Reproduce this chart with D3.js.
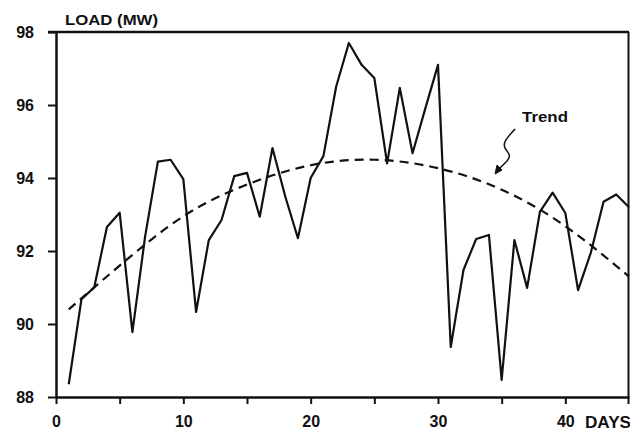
<!DOCTYPE html>
<html>
<head>
<meta charset="utf-8">
<script src="https://cdn.jsdelivr.net/npm/d3@7"></script>
<style>
  body { margin: 0; background: #fff; }
  text { font-family: "Liberation Sans", Arial, sans-serif; fill: #111; }
</style>
</head>
<body>
<div class="canva"></div>
<script>
const width = 630
const height = 435

// daily load readings (MW), days 1..45
const days = d3.range(1, 46)
const load = [88.35, 90.68, 91.0, 92.66, 93.05, 89.78, 92.4, 94.45, 94.5, 93.97,
  90.33, 92.3, 92.85, 94.05, 94.14, 92.94, 94.82, 93.5, 92.35, 94.0,
  94.6, 96.5, 97.7, 97.1, 96.74, 94.4, 96.47, 94.68, 95.9, 97.1,
  89.37, 91.48, 92.33, 92.44, 88.47, 92.3, 90.99, 93.07, 93.6, 93.04,
  90.93, 91.95, 93.35, 93.55, 93.2]

// trend curve read at a few days
const trendDays = [1, 5, 10, 15, 20, 25, 30, 35, 40, 45]
const trendLoad = [90.4, 91.6, 92.95, 93.82, 94.35, 94.5, 94.27, 93.68, 92.68, 91.3]

const yTicks = [88, 90, 92, 94, 96, 98]
const xTicks = [0, 5, 10, 15, 20, 25, 30, 35, 40]
const xLabels = [0, 10, 20, 30, 40]

const margin = {left: 56, right: 1, top: 32, bottom: 38}

const svg = d3.select(".canva").append("svg").attr("width", width).attr("height", height)

const x = d3.scaleLinear().domain([0, 45]).range([margin.left, width - margin.right])
const y = d3.scaleLinear().domain([88, 98]).range([height - margin.bottom, margin.top])

const ink = "#111"

//axes
const yAxis = svg.append("g")
  .attr("transform", `translate(${margin.left},0)`)
  .call(d3.axisLeft(y).tickValues(yTicks).tickSize(8).tickPadding(14).tickSizeOuter(0))
yAxis.select(".domain").attr("stroke", ink).attr("stroke-width", 2.5)
yAxis.selectAll(".tick line").attr("stroke", ink).attr("stroke-width", 2)
yAxis.selectAll(".tick text").attr("font-size", 16).attr("font-weight", "bold")
  .attr("fill", ink).style("font-family", "Liberation Sans, Arial, sans-serif")

const xAxis = svg.append("g")
  .attr("transform", `translate(0,${y(88)})`)
  .call(d3.axisBottom(x).tickValues(xTicks).tickSize(7).tickPadding(12).tickSizeOuter(0)
    .tickFormat(d => xLabels.includes(d) ? d : ""))
xAxis.select(".domain").attr("stroke", ink).attr("stroke-width", 2.5)
xAxis.selectAll(".tick line").attr("stroke", ink).attr("stroke-width", 2)
xAxis.selectAll(".tick text").attr("font-size", 16).attr("font-weight", "bold")
  .attr("fill", ink).style("font-family", "Liberation Sans, Arial, sans-serif")

//top and right frame
svg.append("line").attr("x1", margin.left - 8).attr("x2", x(45))
  .attr("y1", y(98)).attr("y2", y(98)).attr("stroke", ink).attr("stroke-width", 2.5)
svg.append("line").attr("x1", x(45) - 0.5).attr("x2", x(45) - 0.5)
  .attr("y1", y(98)).attr("y2", y(88) + 7).attr("stroke", ink).attr("stroke-width", 2)

svg.append("text").attr("x", 65).attr("y", 25).attr("font-size", 14).attr("font-weight", "bold")
  .attr("textLength", 93).attr("lengthAdjust", "spacingAndGlyphs").text("LOAD (MW)")
svg.append("text").attr("x", 585).attr("y", 428).attr("font-size", 16).attr("font-weight", "bold")
  .attr("textLength", 46).attr("lengthAdjust", "spacingAndGlyphs").text("DAYS")

//trend
const trendLine = d3.line().x((d, i) => x(trendDays[i])).y(d => y(d)).curve(d3.curveNatural)
svg.append("path").datum(trendLoad).attr("d", trendLine)
  .attr("fill", "none").attr("stroke", ink).attr("stroke-width", 2.2).attr("stroke-dasharray", "9,6")

//load
const loadLine = d3.line().x((d, i) => x(days[i])).y(d => y(d))
svg.append("path").datum(load).attr("d", loadLine)
  .attr("fill", "none").attr("stroke", ink).attr("stroke-width", 2.2).attr("stroke-linejoin", "round")

//trend label and squiggle arrow
svg.append("text").attr("x", 522).attr("y", 122).attr("font-size", 15).attr("font-weight", "bold")
  .attr("textLength", 46).attr("lengthAdjust", "spacingAndGlyphs").text("Trend")
svg.append("path").attr("d", "M515,129 C509,136 502,142 505,148 C508,153 512,155 507,161 L499,169")
  .attr("fill", "none").attr("stroke", ink).attr("stroke-width", 1.5)
svg.append("path").attr("d", "M495,174 L497,165 L502,170 Z").attr("fill", ink).attr("stroke", ink)
</script>
</body>
</html>
